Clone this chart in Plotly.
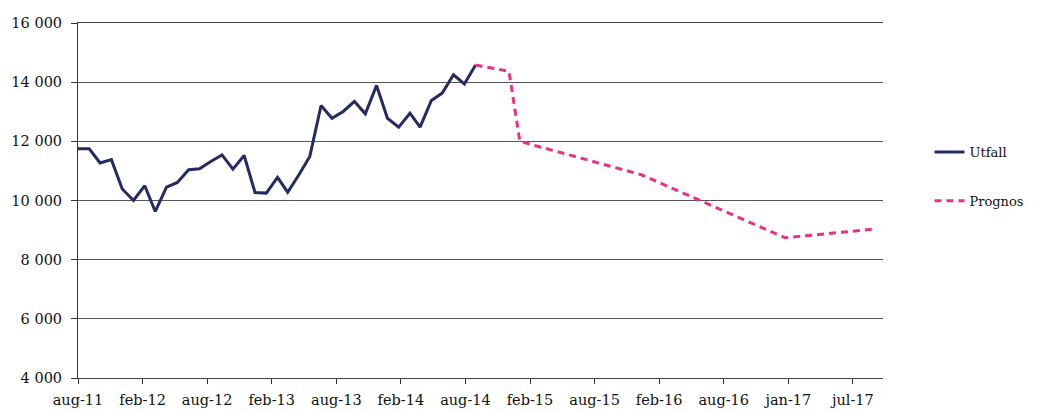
import pandas as pd
import plotly.graph_objects as go

# Monthly outcome, aug-11 .. aug-14
utfall_months = pd.date_range("2011-08-01", "2014-08-01", freq="MS")
utfall_values = [11750, 11750, 11270, 11380, 10390, 10000, 10500, 9630, 10450,
                 10610, 11040, 11070, 11320, 11540, 11060, 11520, 10270, 10250,
                 10780, 10280, 10870, 11490, 13210, 12780, 13010, 13350, 12930,
                 13890, 12780, 12480, 12950, 12480, 13380, 13630, 14250, 13940,
                 14580]

# Forecast points
prognos_months = ["2014-08-01", "2014-11-01", "2014-12-01", "2015-11-01",
                  "2016-12-01", "2017-08-01"]
prognos_values = [14580, 14370, 12000, 10870, 8740, 9030]

# Axis labels
x_tick_labels = ["aug-11", "feb-12", "aug-12", "feb-13", "aug-13", "feb-14",
                 "aug-14", "feb-15", "aug-15", "feb-16", "aug-16", "jan-17",
                 "jul-17"]
y_ticks = [4000, 6000, 8000, 10000, 12000, 14000, 16000]

axis_start = pd.Timestamp("2011-08-01")
axis_end = pd.Timestamp("2017-08-28")
tick_step = pd.Timedelta(days=178)
x_tick_vals = [axis_start + i * tick_step for i in range(len(x_tick_labels))]

font = "DejaVu Serif"

fig = go.Figure()
fig.add_trace(go.Scatter(
    x=utfall_months, y=utfall_values, mode="lines", name="Utfall",
    line=dict(color="#232b62", width=3), legendgroup="a",
))
fig.add_trace(go.Scatter(
    x=pd.to_datetime(prognos_months), y=prognos_values, mode="lines",
    name="Prognos", line=dict(color="#ee2f86", width=3, dash="7px,5px"),
    legendgroup="b",
))

fig.update_layout(
    width=1039, height=412,
    margin=dict(l=78, r=156, t=23, b=34),
    paper_bgcolor="white", plot_bgcolor="white",
    separators=", ",
    font=dict(family=font, size=14.5, color="#111111"),
    showlegend=True,
    legend=dict(
        xref="container", yref="container",
        x=0.8946, y=1 - 137 / 412, xanchor="left", yanchor="top",
        font=dict(family=font, size=13, color="#111111"),
        traceorder="grouped", tracegroupgap=29,
        bgcolor="rgba(0,0,0,0)",
    ),
)

fig.update_xaxes(
    type="date", range=[axis_start, axis_end], automargin=False,
    tickvals=x_tick_vals, ticktext=x_tick_labels,
    ticks="outside", ticklen=5, tickcolor="#333333",
    showgrid=False, zeroline=False,
    showline=True, linecolor="#444444", linewidth=1, mirror=True,
    ticklabelstandoff=4,
    tickfont=dict(family=font, size=14.5),
)
fig.update_yaxes(
    range=[4000, 16000], tickvals=y_ticks, tickformat=",d", automargin=False,
    ticks="outside", ticklen=6, tickcolor="#333333",
    showgrid=True, gridcolor="#555555", gridwidth=1,
    zeroline=False, showline=True, linecolor="#333333", linewidth=1,
    ticklabelstandoff=6,
    tickfont=dict(family=font, size=14.5),
)

fig.write_html("out.html")
